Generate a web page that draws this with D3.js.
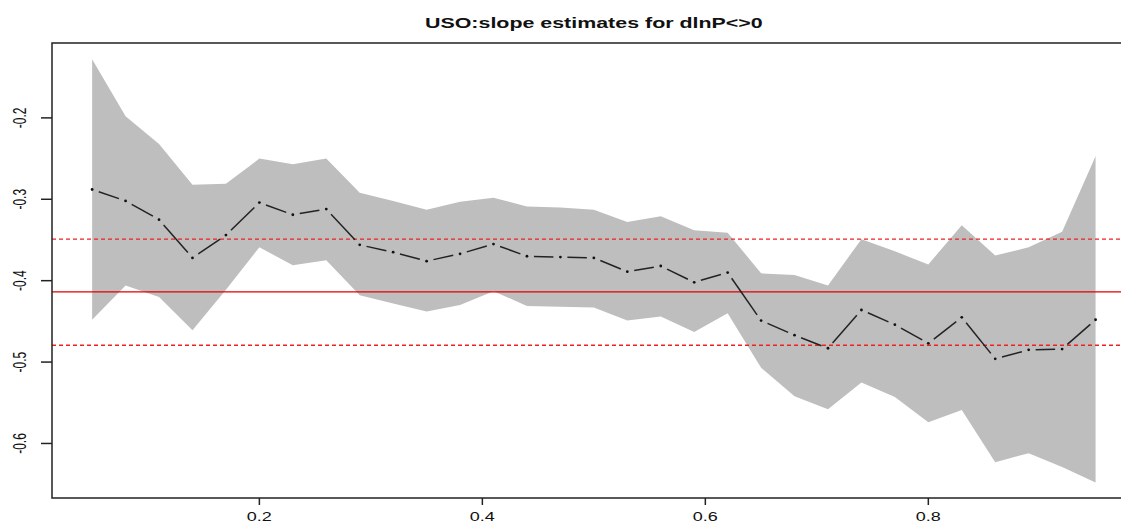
<!DOCTYPE html>
<html>
<head>
<meta charset="utf-8">
<script src="https://cdn.jsdelivr.net/npm/d3@7"></script>
<style>
  body { margin: 0; background: white; overflow: hidden; }
  text { font-family: "Liberation Sans", Arial, sans-serif; }
</style>
</head>
<body>
<div class="chart"></div>
<script>
// quantiles and estimates
const taus = [0.05,0.08,0.11,0.14,0.17,0.20,0.23,0.26,0.29,0.32,0.35,0.38,0.41,0.44,0.47,0.50,
              0.53,0.56,0.59,0.62,0.65,0.68,0.71,0.74,0.77,0.80,0.83,0.86,0.89,0.92,0.95];
const coef = [-0.288,-0.302,-0.325,-0.372,-0.344,-0.304,-0.319,-0.312,-0.356,-0.365,-0.376,-0.367,
              -0.355,-0.370,-0.371,-0.372,-0.389,-0.382,-0.402,-0.390,-0.449,-0.467,-0.483,-0.436,
              -0.454,-0.477,-0.445,-0.496,-0.485,-0.484,-0.448];
const upper = [-0.128,-0.198,-0.232,-0.282,-0.281,-0.250,-0.257,-0.250,-0.292,-0.302,-0.313,-0.303,
               -0.298,-0.309,-0.310,-0.313,-0.328,-0.321,-0.338,-0.341,-0.391,-0.393,-0.406,-0.349,
               -0.364,-0.380,-0.332,-0.369,-0.359,-0.340,-0.247];
const lower = [-0.448,-0.406,-0.420,-0.461,-0.411,-0.359,-0.381,-0.375,-0.418,-0.428,-0.438,-0.430,
               -0.413,-0.431,-0.432,-0.433,-0.449,-0.444,-0.463,-0.440,-0.507,-0.542,-0.558,-0.525,
               -0.543,-0.574,-0.559,-0.623,-0.612,-0.629,-0.648];
// OLS estimate and its confidence bounds
const olsCoef = -0.4138;
const olsBounds = [-0.349, -0.4793];

const xTicks = [0.2, 0.4, 0.6, 0.8];
const yTicks = [-0.6, -0.5, -0.4, -0.3, -0.2];
const title = "USO:slope estimates for dlnP<>0";

const w = 1121;
const h = 522;
const padLeft = 52, padTop = 43, plotW = 1083.7, plotH = 455;
// the original picture was stretched sideways, so text is too
const stretch = 1.5;

const svg = d3.select(".chart")
              .append("svg")
              .attr("width", w)
              .attr("height", h)
              .style("background-color", "white");

const x = d3.scaleLinear().domain([0.014, 0.986]).range([padLeft, padLeft + plotW]);
const y = d3.scaleLinear().domain([-0.667, -0.108]).range([padTop + plotH, padTop]);

svg.append("clipPath").attr("id", "clip")
   .append("rect").attr("x", padLeft).attr("y", padTop).attr("width", plotW).attr("height", plotH);

const plot = svg.append("g").attr("clip-path", "url(#clip)");

// shaded band
const band = d3.area()
  .x((d, i) => x(taus[i]))
  .y0((d, i) => y(lower[i]))
  .y1((d, i) => y(upper[i]));

plot.append("path")
    .datum(taus)
    .attr("d", band)
    .attr("fill", "#bebebe");

// ols lines
plot.append("line")
    .attr("x1", padLeft).attr("x2", padLeft + plotW)
    .attr("y1", y(olsCoef)).attr("y2", y(olsCoef))
    .attr("stroke", "#e00000").attr("stroke-width", 1.2);

plot.selectAll(".ci")
    .data(olsBounds)
    .enter()
    .append("line")
    .attr("class", "ci")
    .attr("x1", padLeft).attr("x2", padLeft + plotW)
    .attr("y1", d => y(d)).attr("y2", d => y(d))
    .attr("stroke", "#f02020").attr("stroke-width", 1.4)
    .attr("stroke-dasharray", "4,3");

// estimate line, type "b": segments with gaps around points
const gap = 7;
const segs = [];
for (let i = 0; i < taus.length - 1; i++) {
  const x1 = x(taus[i]), y1 = y(coef[i]), x2 = x(taus[i + 1]), y2 = y(coef[i + 1]);
  const len = Math.hypot(x2 - x1, y2 - y1);
  if (len <= 2 * gap) continue;
  const ux = (x2 - x1) / len, uy = (y2 - y1) / len;
  segs.push([x1 + ux * gap, y1 + uy * gap, x2 - ux * gap, y2 - uy * gap]);
}

plot.selectAll(".seg")
    .data(segs)
    .enter()
    .append("line")
    .attr("class", "seg")
    .attr("x1", d => d[0]).attr("y1", d => d[1])
    .attr("x2", d => d[2]).attr("y2", d => d[3])
    .attr("stroke", "#222").attr("stroke-width", 1.5);

plot.selectAll(".pt")
    .data(taus)
    .enter()
    .append("circle")
    .attr("class", "pt")
    .attr("cx", d => x(d))
    .attr("cy", (d, i) => y(coef[i]))
    .attr("r", 1.4)
    .attr("fill", "#111");

// box (right side falls off the page)
svg.append("rect")
   .attr("x", padLeft).attr("y", padTop).attr("width", plotW).attr("height", plotH)
   .attr("fill", "none").attr("stroke", "#222").attr("stroke-width", 1.5);

// axes
const xAxis = svg.append("g");
xAxis.selectAll("line")
     .data(xTicks)
     .enter()
     .append("line")
     .attr("x1", d => x(d)).attr("x2", d => x(d))
     .attr("y1", padTop + plotH).attr("y2", padTop + plotH + 7)
     .attr("stroke", "#222").attr("stroke-width", 1.5);
xAxis.selectAll("text")
     .data(xTicks)
     .enter()
     .append("text")
     .attr("transform", d => "translate(" + x(d) + ",521) scale(" + stretch + ",1)")
     .attr("text-anchor", "middle")
     .attr("font-size", 12)
     .attr("fill", "#111")
     .text(d => d3.format(".1f")(d));

const yAxis = svg.append("g");
yAxis.selectAll("line")
     .data(yTicks)
     .enter()
     .append("line")
     .attr("x1", padLeft - 11).attr("x2", padLeft)
     .attr("y1", d => y(d)).attr("y2", d => y(d))
     .attr("stroke", "#222").attr("stroke-width", 1.5);
yAxis.selectAll("text")
     .data(yTicks)
     .enter()
     .append("text")
     .attr("transform", d => "translate(25.5," + y(d) + ") scale(" + stretch + ",1) rotate(-90)")
     .attr("text-anchor", "middle")
     .attr("font-size", 12)
     .attr("fill", "#111")
     .text(d => d3.format(".1f")(d).replace("−", "-"));

svg.append("text")
   .attr("transform", "translate(" + (padLeft + plotW / 2) + ",28) scale(1.53,1)")
   .attr("text-anchor", "middle")
   .attr("font-size", 14)
   .attr("font-weight", "bold")
   .attr("fill", "#111")
   .text(title);
</script>
</body>
</html>
